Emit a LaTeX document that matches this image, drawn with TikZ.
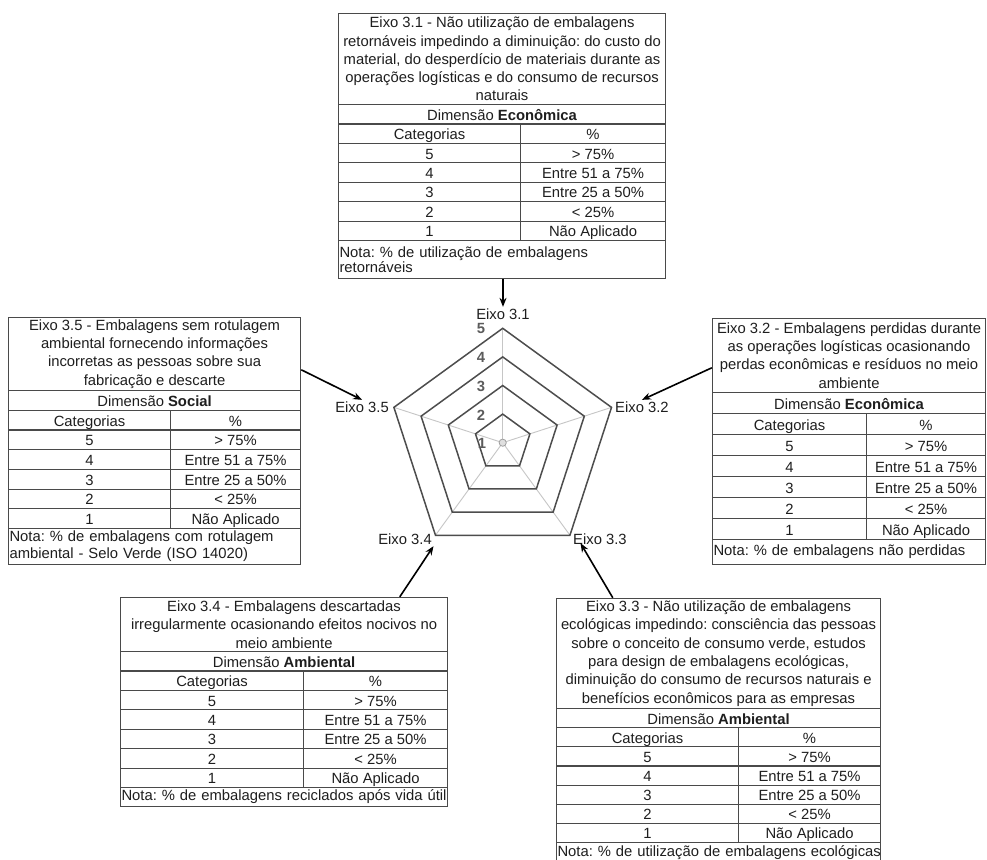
\documentclass[tikz,border=0pt]{standalone}
\usepackage{fontspec}
\setmainfont{Liberation Sans}
\usetikzlibrary{arrows.meta,fit}
\hyphenpenalty=10000
\exhyphenpenalty=10000

\definecolor{rule}{HTML}{4A4A4A}
\definecolor{ink}{HTML}{1E1E1E}
\definecolor{web}{HTML}{4D4D4D}
\definecolor{spoke}{HTML}{C6C6C6}
\definecolor{level}{HTML}{5C5C5C}

\tikzset{
  txt/.style={font=\fontsize{14.8}{18.3}\selectfont\frenchspacing, text=ink},
  cell/.style={txt, draw=rule, line width=1.1pt, anchor=north west, inner sep=0pt, align=center},
  gridcell/.style={cell, text height=12.6, text depth=0.6},
  notecell/.style={cell, align=left, inner xsep=1pt},
  notelead/.style={font=\fontsize{14.8}{#1}\selectfont\frenchspacing},
  axlabel/.style={txt, inner sep=1.5pt},
  lvl/.style={font=\fontsize{14.8}{16}\selectfont\bfseries, text=level, inner sep=0pt},
  link/.style={draw=black, line width=1.6pt, -{Stealth[length=9pt,width=7pt]}},
  frame/.style={inner sep=0pt},
  webline/.style={draw=web, line width=1.5pt, line join=miter},
  spokeline/.style={draw=spoke, line width=0.9pt},
}

% Dimension row, header row and the five category rows of one indicator table.
% #1 name prefix, #2 left x, #3 column divider x, #4 right x,
% #5 top of the dimension row, #6 row height, #7 dimension name
\newcommand{\catgrid}[7]{%
  \node[gridcell, minimum width={#4-#2}, minimum height={#6}] (#1-dim) at ({#2},{-#5}) {Dimensão \textbf{#7}};
  \foreach \lab/\val [count=\i] in {Categorias/\%, 5/{> 75\%}, 4/{Entre 51 a 75\%}, 3/{Entre 25 a 50\%}, 2/{< 25\%}, 1/{Não Aplicado}} {
    \node[gridcell, minimum width={#3-#2}, minimum height={#6}] (#1-c\i) at ({#2},{-#5-\i*#6}) {\lab};
    \node[gridcell, minimum width={#4-#3}, minimum height={#6}] (#1-p\i) at ({#3},{-#5-\i*#6}) {\val};
  }%
}

\begin{document}
\begin{tikzpicture}[x=1pt,y=1pt]
\fill[white] (0,0) rectangle (987,-859);
\useasboundingbox (0,0) rectangle (987,-859);

% ---------- radar web ----------
\begin{scope}[shift={(502.7,-442.7)}]
  \foreach \a in {90,18,-54,-126,162}
    \draw[spokeline] (0,0) -- (\a:114.4);
  \foreach \r in {28.6,57.2,85.8,114.4}
    \draw[webline] (90:\r) -- (18:\r) -- (-54:\r) -- (-126:\r) -- (162:\r) -- cycle;
  \draw[draw=gray!75, fill=gray!25, line width=0.8pt] (0,0) circle (3.6);
\end{scope}

% scale values
\node[lvl] (n5) at (481,-328) {5};
\node[lvl] (n4) at (481,-357) {4};
\node[lvl] (n3) at (481,-386) {3};
\node[lvl] (n2) at (481,-415) {2};
\node[lvl] (n1) at (482,-443) {1};

% axis names
\node[axlabel] (lab1) at (503,-314) {Eixo 3.1};
\node[axlabel, anchor=west] (lab2) at (613.5,-407) {Eixo 3.2};
\node[axlabel, anchor=west] (lab3) at (571.5,-539) {Eixo 3.3};
\node[axlabel, anchor=east] (lab4) at (433.5,-539) {Eixo 3.4};
\node[axlabel, anchor=east] (lab5) at (390.5,-407) {Eixo 3.5};

% ---------- Eixo 3.1 ----------
\node[cell, minimum width=327, minimum height=91] (t1-title) at (338,-13)
  {Eixo 3.1 - Não utilização de embalagens\\retornáveis impedindo a diminuição: do custo do\\material, do desperdício de materiais durante as\\operações logísticas e do consumo de recursos\\naturais};
\catgrid{t1}{338}{520}{665}{104}{19.43}{Econômica}
\node[notecell, notelead=14.5, minimum width=327, minimum height=38, text width=325] (t1-note) at (338,-240)
  {\mbox{Nota: \% de utilização de embalagens}\\retornáveis};
\node[fit=(t1-title)(t1-note), frame] (t1) {};

% ---------- Eixo 3.5 ----------
\node[cell, minimum width=292, minimum height=73] (t5-title) at (8,-317)
  {Eixo 3.5 - Embalagens sem rotulagem\\ambiental fornecendo informações\\incorretas as pessoas sobre sua\\fabricação e descarte};
\catgrid{t5}{8}{170}{300}{390}{19.71}{Social}
\node[notecell, notelead=17, minimum width=292, minimum height=36, text width=290] (t5-note) at (8,-528)
  {\mbox{Nota: \% de embalagens com rotulagem}\\\mbox{ambiental - Selo Verde (ISO 14020)}};
\node[fit=(t5-title)(t5-note), frame] (t5) {};

% ---------- Eixo 3.2 ----------
\node[cell, minimum width=273, minimum height=74] (t2-title) at (712,-318)
  {Eixo 3.2 - Embalagens perdidas durante\\as operações logísticas ocasionando\\perdas econômicas e resíduos no meio\\ambiente};
\catgrid{t2}{712}{866}{985}{392}{21}{Econômica}
\node[notecell, minimum width=273, minimum height=25, text width=271] (t2-note) at (712,-539)
  {\mbox{Nota: \% de embalagens não perdidas}};
\node[fit=(t2-title)(t2-note), frame] (t2) {};

% ---------- Eixo 3.4 ----------
\node[cell, minimum width=327, minimum height=54] (t4-title) at (120,-597)
  {Eixo 3.4 - Embalagens descartadas\\irregularmente ocasionando efeitos nocivos no\\meio ambiente};
\catgrid{t4}{120}{303}{447}{651}{19.43}{Ambiental}
\node[notecell, minimum width=327, minimum height=19, text width=325] (t4-note) at (120,-787)
  {\mbox{Nota: \% de embalagens reciclados após vida útil}};
\node[fit=(t4-title)(t4-note), frame] (t4) {};

% ---------- Eixo 3.3 ----------
\node[cell, minimum width=324, minimum height=110] (t3-title) at (556,-598)
  {Eixo 3.3 - Não utilização de embalagens\\ecológicas impedindo: consciência das pessoas\\sobre o conceito de consumo verde, estudos\\para design de embalagens ecológicas,\\diminuição do consumo de recursos naturais e\\benefícios econômicos para as empresas};
\catgrid{t3}{556}{738}{880}{708}{19.14}{Ambiental}
\node[notecell, minimum width=324, minimum height=20, text width=322] (t3-note) at (556,-842)
  {\mbox{Nota: \% de utilização de embalagens ecológicas}};
\node[fit=(t3-title)(t3-note), frame] (t3) {};

% ---------- links from the tables to the axes ----------
\draw[link] (t1.south -| lab1.north) -- (lab1.north);
\draw[link] ([yshift=-53]t5.north east) -- (lab5.north);
\draw[link] ([yshift=-50]t2.north west) -- (lab2.north);
\draw[link] ([xshift=280]t4.north west) -- (lab4.south east);
\draw[link] ([xshift=57]t3.north west) -- ([xshift=9,yshift=3]lab3.south west);
\end{tikzpicture}
\end{document}
